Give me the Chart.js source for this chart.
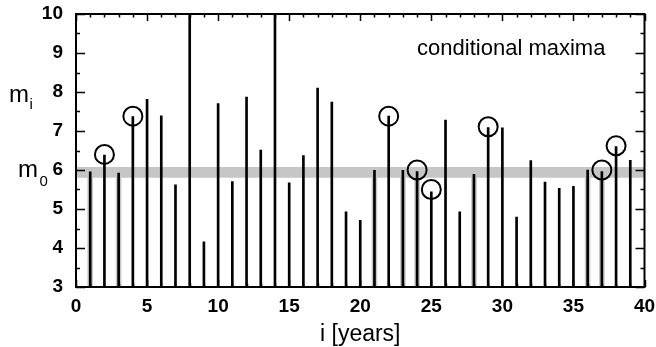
<!DOCTYPE html>
<html><head><meta charset="utf-8">
<script src="https://cdn.jsdelivr.net/npm/chart.js@4"></script>
<style>html,body{margin:0;padding:0;background:#fff}#wrap{width:656px;height:347px;position:relative}</style>
</head><body><div id="wrap"><canvas id="c" width="656" height="347"></canvas></div>
<script>
// ---- data ----
const years = [1,2,3,4,5,6,7,8,9,10,11,12,13,14,15,16,17,18,19,20,21,22,23,24,25,26,27,28,29,30,31,32,33,34,35,36,37,38,39];
const maxima = [5.95,6.38,5.92,7.37,7.81,7.39,5.62,10,4.16,7.70,5.70,7.87,6.51,10,5.67,6.37,8.10,7.74,4.93,4.71,5.99,7.38,5.99,5.96,5.44,7.28,4.93,5.89,7.09,7.08,4.79,6.24,5.69,5.53,5.58,6.00,5.96,6.60,6.25];
const circledYears = [2,4,22,24,25,29,37,38];
const circledValues = [6.40,7.38,7.38,6.00,5.50,7.11,6.00,6.62];
const haloYears = [1,3,21,23,24,28,36,37];
const m0Band = [5.80, 6.08];
const xRange = [0, 40];
const yRange = [3, 10];
const xStep = 5, yStep = 1;
const annotationText = 'conditional maxima';
const xTitle = 'i [years]';

// ---- build ----
const stemData = years.map((x,i)=>({x, y: maxima[i]}));
const haloData = haloYears.map(x=>({x, y: maxima[years.indexOf(x)]}));
const circleData = circledYears.map((x,i)=>({x, y: circledValues[i]}));
const bandHigh = xRange.map(x=>({x, y: m0Band[1]}));
const bandLow = xRange.map(x=>({x, y: m0Band[0]}));

const FONT = '"Liberation Sans", Arial, Helvetica, sans-serif';

const decor = {
  id: 'decor',
  afterDatasetsDraw(chart) {
    const {ctx, chartArea: a, scales: {x, y}} = chart;
    ctx.save();
    ctx.strokeStyle = '#000';
    ctx.lineWidth = 1.5;
    ctx.beginPath();
    for (let v = xRange[0]; v <= xRange[1]; v++) {
      const px = Math.round(x.getPixelForValue(v)) + 0.5;
      const L = v % 5 === 0 ? 7 : 3.5;
      ctx.moveTo(px, a.top); ctx.lineTo(px, a.top + L);
      ctx.moveTo(px, a.bottom); ctx.lineTo(px, a.bottom - L);
    }
    for (let v = yRange[0]; v <= yRange[1] + 1e-9; v += 0.5) {
      const py = Math.round(y.getPixelForValue(v)) + 0.5;
      const L = Math.abs(v - Math.round(v)) < 1e-9 ? 9 : 4;
      ctx.moveTo(a.left, py); ctx.lineTo(a.left + L, py);
      ctx.moveTo(a.right, py); ctx.lineTo(a.right - L, py);
    }
    ctx.stroke();
    ctx.lineWidth = 2;
    ctx.strokeRect(a.left, a.top, a.right - a.left, a.bottom - a.top);

    // annotation
    ctx.fillStyle = '#000';
    ctx.font = '22px ' + FONT;
    ctx.textBaseline = 'middle';
    ctx.textAlign = 'left';
    ctx.fillText(annotationText, x.getPixelForValue(24.0), y.getPixelForValue(9.1));

    // m_i and m_0 labels
    const base8 = y.getPixelForValue(8) + 10;
    const base6 = y.getPixelForValue(6) + 7;
    ctx.textBaseline = 'alphabetic';
    ctx.font = '24px ' + FONT;
    ctx.fillText('m', 9, base8);
    ctx.fillText('m', 18, base6);
    ctx.font = '15px ' + FONT;
    ctx.fillText('i', 29.5, base8 + 7);
    ctx.fillText('0', 39.5, base6 + 9);
    ctx.restore();
  }
};

new Chart(document.getElementById('c'), {
  type: 'bar',
  data: {
    datasets: [
      { type: 'scatter', data: circleData, pointStyle: 'circle', pointRadius: 9.5, pointHoverRadius: 9.5,
        borderColor: '#000', borderWidth: 2, backgroundColor: 'rgba(0,0,0,0)', order: 0 },
      { type: 'bar', data: stemData, backgroundColor: '#000', barThickness: 2, grouped: false, order: 1 },
      { type: 'bar', data: haloData, backgroundColor: '#c8c8c8', barThickness: 5, grouped: false, order: 2 },
      { type: 'line', data: bandHigh, borderWidth: 0, pointRadius: 0, fill: '+1', backgroundColor: '#c6c6c6', order: 3 },
      { type: 'line', data: bandLow, borderWidth: 0, pointRadius: 0, fill: false, order: 4 }
    ]
  },
  options: {
    responsive: false,
    animation: false,
    devicePixelRatio: 1,
    layout: { padding: { left: 0, right: 10, top: 14, bottom: 0 } },
    plugins: { legend: { display: false }, tooltip: { enabled: false } },
    scales: {
      x: {
        type: 'linear', min: xRange[0], max: xRange[1], offset: false,
        grid: { display: false, drawTicks: false },
        border: { display: false },
        ticks: { stepSize: xStep, padding: 8, color: '#000', maxRotation: 0,
                 font: { family: FONT, size: 19, weight: 'bold' } },
        title: { display: true, text: xTitle, color: '#000', padding: { top: 0, bottom: 0 },
                 font: { family: FONT, size: 23, lineHeight: 1.1 } },
        afterFit(s) { s.height = 60; s.paddingLeft = 0; s.paddingRight = 0; }
      },
      y: {
        type: 'linear', min: yRange[0], max: yRange[1],
        grid: { display: false, drawTicks: false },
        border: { display: false },
        ticks: { stepSize: yStep, padding: 13, color: '#000',
                 font: { family: FONT, size: 19, weight: 'bold' } },
        afterFit(s) { s.width = 76; s.paddingTop = 0; s.paddingBottom = 0; }
      }
    }
  },
  plugins: [decor]
});
</script>
</body></html>
